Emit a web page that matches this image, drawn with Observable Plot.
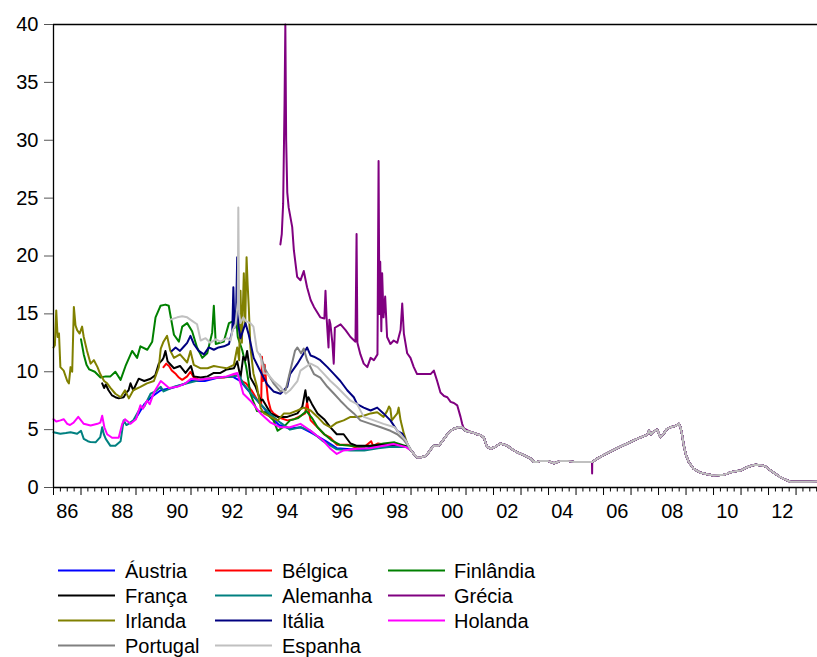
<!DOCTYPE html>
<html>
<head>
<meta charset="utf-8">
<script src="https://cdn.jsdelivr.net/npm/d3@7"></script>
<script src="https://cdn.jsdelivr.net/npm/@observablehq/plot@0.6"></script>
<style>
  html, body { margin: 0; padding: 0; background: #fff; }
  #chart { width: 817px; }
  svg { display: block; }
</style>
</head>
<body>
<div id="chart"></div>
<script>
// Short-term interbank rates (% p.a.), euro-area countries, [decimal year, rate]
const austria = [[1989.0,6.0],[1989.3,7.2],[1989.6,7.9],[1989.9,8.4],[1990.3,8.6],[1990.7,8.9],[1991.0,9.2],[1991.5,9.2],[1992.0,9.5],[1992.5,9.6],[1992.8,9.2],[1993.0,8.6],[1993.3,7.8],[1993.6,7.0],[1993.9,6.1],[1994.2,5.4],[1994.6,5.1],[1995.0,5.2],[1995.4,4.7],[1995.9,4.0],[1996.3,3.4],[1996.8,3.3],[1997.3,3.3],[1997.8,3.6],[1998.3,3.6],[1998.9,3.5]];

const belgium = [[1990.0,10.4],[1990.1,10.7],[1990.2,10.5],[1990.3,10.1],[1990.45,9.8],[1990.56,9.5],[1990.68,9.3],[1990.86,9.6],[1990.98,10.0],[1991.1,9.5],[1991.3,9.3],[1991.6,9.4],[1991.9,9.5],[1992.2,9.5],[1992.5,9.6],[1992.7,9.7],[1992.85,9.2],[1993.0,9.0],[1993.2,8.4],[1993.4,7.6],[1993.55,7.1],[1993.58,11.3],[1993.62,9.2],[1993.68,10.6],[1993.74,9.0],[1993.8,7.6],[1993.9,6.7],[1994.0,6.4],[1994.25,6.0],[1994.5,5.8],[1994.75,5.9],[1995.0,6.2],[1995.15,6.4],[1995.22,7.4],[1995.27,6.7],[1995.35,5.8],[1995.6,5.2],[1995.84,4.6],[1996.07,4.3],[1996.3,3.7],[1996.7,3.7],[1997.04,3.4],[1997.3,3.5],[1997.55,4.0],[1997.62,3.6],[1997.8,3.8],[1998.1,3.7],[1998.4,3.8],[1998.65,3.5],[1998.9,3.5]];

const finland = [[1987.0,12.8],[1987.1,11.5],[1987.2,10.6],[1987.3,10.2],[1987.5,10.0],[1987.71,9.5],[1987.9,9.6],[1988.07,9.6],[1988.25,10.0],[1988.44,9.3],[1988.62,10.5],[1988.86,11.8],[1989.04,11.2],[1989.16,12.2],[1989.41,11.9],[1989.59,12.6],[1989.71,14.7],[1989.89,15.7],[1990.07,15.8],[1990.19,15.7],[1990.25,14.9],[1990.38,13.2],[1990.56,12.6],[1990.68,13.9],[1990.86,14.2],[1991.04,13.5],[1991.22,12.1],[1991.41,11.2],[1991.59,11.6],[1991.77,13.4],[1991.83,15.7],[1991.9,12.4],[1992.19,12.6],[1992.38,14.2],[1992.56,14.4],[1992.62,15.2],[1992.7,13.0],[1992.87,11.8],[1993.0,10.5],[1993.16,8.1],[1993.4,6.6],[1993.7,6.5],[1994.0,5.8],[1994.15,4.9],[1994.4,5.3],[1994.6,5.8],[1994.9,6.0],[1995.2,6.6],[1995.4,6.0],[1995.6,5.2],[1995.85,4.6],[1996.1,4.1],[1996.4,3.7],[1996.8,3.6],[1997.2,3.5],[1997.6,3.6],[1998.0,3.8],[1998.4,3.9],[1998.8,3.6]];

const france = [[1987.77,9.0],[1987.84,8.6],[1987.9,8.9],[1988.0,8.4],[1988.13,7.95],[1988.25,7.8],[1988.37,7.7],[1988.55,7.8],[1988.65,8.2],[1988.73,8.4],[1988.8,9.0],[1988.9,8.4],[1989.1,9.4],[1989.3,9.2],[1989.53,9.4],[1989.7,9.7],[1989.83,10.7],[1989.95,11.0],[1990.0,11.2],[1990.07,11.8],[1990.15,10.9],[1990.38,10.3],[1990.6,10.5],[1990.8,9.9],[1991.0,10.5],[1991.1,9.6],[1991.35,9.5],[1991.6,9.6],[1991.83,9.9],[1992.07,9.9],[1992.3,10.2],[1992.56,10.3],[1992.68,10.9],[1992.74,10.2],[1992.8,9.5],[1992.9,11.3],[1992.98,11.0],[1993.04,11.8],[1993.1,10.8],[1993.16,9.5],[1993.35,8.7],[1993.53,7.5],[1993.6,7.6],[1993.75,7.0],[1993.9,6.4],[1994.15,6.1],[1994.5,6.1],[1994.87,6.4],[1995.05,7.0],[1995.16,8.4],[1995.22,7.4],[1995.27,7.8],[1995.4,7.2],[1995.6,6.4],[1995.84,5.9],[1996.07,5.2],[1996.3,4.6],[1996.55,4.6],[1996.8,3.8],[1997.04,3.6],[1997.5,3.6],[1998.0,3.7],[1998.5,3.7],[1998.9,3.5]];

const germany = [[1986.0,4.78],[1986.25,4.64],[1986.45,4.7],[1986.62,4.78],[1986.86,4.64],[1987.0,4.9],[1987.1,4.2],[1987.25,4.0],[1987.35,3.92],[1987.53,3.9],[1987.7,4.35],[1987.77,5.2],[1987.83,4.6],[1987.9,4.2],[1988.07,3.6],[1988.25,3.6],[1988.44,4.0],[1988.55,5.8],[1988.65,5.4],[1988.73,5.5],[1988.9,5.8],[1989.16,6.9],[1989.3,7.0],[1989.53,8.1],[1989.7,8.3],[1989.9,8.7],[1990.0,8.3],[1990.38,8.7],[1990.86,9.0],[1991.35,9.3],[1991.95,9.5],[1992.56,9.6],[1992.74,9.7],[1992.92,8.9],[1993.16,8.2],[1993.53,7.2],[1993.9,6.3],[1994.25,5.6],[1994.6,5.0],[1994.98,5.2],[1995.35,4.9],[1995.8,4.0],[1996.3,3.3],[1996.8,3.2],[1997.3,3.2],[1997.8,3.4],[1998.2,3.5],[1998.9,3.5]];

const greece = [[1994.25,21.0],[1994.3,21.9],[1994.35,24.5],[1994.4,33.0],[1994.43,40.0],[1994.46,30.0],[1994.5,25.5],[1994.55,24.2],[1994.68,22.5],[1994.74,20.5],[1994.86,18.2],[1994.98,17.9],[1995.1,18.7],[1995.22,17.3],[1995.35,16.2],[1995.47,15.6],[1995.7,14.7],[1995.85,14.6],[1995.89,17.0],[1995.93,14.7],[1996.0,12.1],[1996.03,14.5],[1996.07,14.1],[1996.14,12.5],[1996.19,10.7],[1996.23,13.8],[1996.44,14.1],[1996.62,13.6],[1996.8,13.0],[1996.98,12.6],[1997.02,21.9],[1997.05,12.5],[1997.16,11.5],[1997.28,10.7],[1997.41,10.4],[1997.53,11.2],[1997.65,11.0],[1997.78,11.5],[1997.82,28.2],[1997.85,15.0],[1997.88,19.5],[1997.92,13.5],[1997.95,18.5],[1998.0,14.7],[1998.06,16.5],[1998.13,13.0],[1998.25,12.4],[1998.37,12.7],[1998.5,12.5],[1998.62,13.6],[1998.68,15.9],[1998.74,13.3],[1998.86,11.6],[1998.98,11.2],[1999.1,10.4],[1999.22,9.8],[1999.47,9.8],[1999.71,9.8],[1999.83,10.1],[1999.95,9.2],[2000.07,8.2],[2000.2,7.9],[2000.32,7.8],[2000.44,7.4],[2000.56,7.3],[2000.68,7.1],[2000.8,6.1],[2000.86,5.5],[2000.92,5.1]];
// one-day drop in the Greek fixing
const greeceDip = [[2005.585,1.2]];

const ireland = [[1986.0,12.1],[1986.05,12.3],[1986.1,15.3],[1986.15,13.0],[1986.2,13.3],[1986.25,10.4],[1986.37,10.1],[1986.5,9.2],[1986.56,9.0],[1986.62,10.4],[1986.68,10.0],[1986.74,15.6],[1986.8,14.0],[1986.86,13.6],[1986.95,13.3],[1987.04,13.9],[1987.1,13.0],[1987.22,11.8],[1987.35,10.7],[1987.47,11.0],[1987.6,10.4],[1987.7,9.8],[1987.84,9.2],[1987.95,9.0],[1988.07,8.6],[1988.25,8.1],[1988.44,7.8],[1988.6,8.4],[1988.74,7.7],[1988.9,8.4],[1989.16,8.7],[1989.4,9.0],[1989.65,9.2],[1989.83,10.4],[1989.9,12.0],[1990.0,12.6],[1990.13,13.1],[1990.25,11.8],[1990.38,11.2],[1990.6,11.5],[1990.86,10.8],[1990.98,11.8],[1991.1,10.6],[1991.35,10.3],[1991.6,10.3],[1991.83,10.5],[1992.05,10.4],[1992.3,10.3],[1992.56,10.6],[1992.68,12.1],[1992.75,11.0],[1992.8,17.0],[1992.85,12.5],[1992.92,18.5],[1992.97,14.0],[1993.02,19.9],[1993.06,17.5],[1993.1,15.6],[1993.16,12.1],[1993.27,9.85],[1993.4,8.7],[1993.53,6.9],[1993.65,6.4],[1993.9,6.1],[1994.15,5.8],[1994.38,6.4],[1994.6,6.4],[1994.87,6.65],[1995.1,6.9],[1995.35,6.65],[1995.6,6.1],[1995.84,5.5],[1996.07,5.2],[1996.3,5.6],[1996.55,5.8],[1996.8,6.1],[1997.04,6.1],[1997.28,6.2],[1997.53,6.4],[1997.77,6.5],[1998.0,6.1],[1998.13,6.6],[1998.2,7.0],[1998.25,6.8],[1998.3,5.8],[1998.5,6.4],[1998.55,6.9],[1998.62,5.8],[1998.74,4.65],[1998.86,3.8]];

const italy = [[1990.3,11.8],[1990.44,12.1],[1990.6,11.8],[1990.75,12.2],[1990.86,12.5],[1990.98,13.1],[1991.1,12.4],[1991.28,11.8],[1991.47,11.5],[1991.65,12.1],[1991.83,11.9],[1992.0,12.1],[1992.2,12.2],[1992.38,12.4],[1992.5,13.5],[1992.54,17.3],[1992.58,13.8],[1992.64,15.0],[1992.68,19.9],[1992.72,14.0],[1992.8,12.9],[1992.98,14.2],[1993.1,13.2],[1993.28,11.2],[1993.53,10.0],[1993.77,8.9],[1994.0,8.3],[1994.25,8.1],[1994.5,8.7],[1994.6,9.8],[1994.87,10.7],[1995.1,11.6],[1995.22,12.1],[1995.35,11.4],[1995.47,11.3],[1995.7,11.0],[1995.96,10.4],[1996.2,9.8],[1996.43,9.2],[1996.68,8.4],[1996.92,7.8],[1997.04,7.2],[1997.28,6.9],[1997.53,6.65],[1997.77,6.9],[1998.0,6.4],[1998.25,5.8],[1998.5,4.9],[1998.68,4.65],[1998.86,3.8]];

const netherlands = [[1986.0,5.9],[1986.1,5.7],[1986.25,5.8],[1986.37,5.9],[1986.5,5.5],[1986.6,5.4],[1986.73,5.6],[1986.9,6.1],[1987.0,5.8],[1987.1,5.5],[1987.35,5.35],[1987.6,5.5],[1987.7,5.6],[1987.77,6.2],[1987.85,5.2],[1987.95,4.6],[1988.13,4.3],[1988.37,4.3],[1988.5,5.5],[1988.6,5.9],[1988.8,5.5],[1989.0,5.9],[1989.16,7.1],[1989.25,6.8],[1989.4,7.5],[1989.5,7.2],[1989.65,8.2],[1989.9,9.2],[1990.0,9.0],[1990.2,8.6],[1990.5,8.7],[1990.8,9.0],[1991.0,9.4],[1991.3,9.3],[1991.6,9.4],[1992.0,9.5],[1992.3,9.6],[1992.55,9.8],[1992.68,9.9],[1992.8,9.0],[1992.9,8.1],[1993.16,7.5],[1993.53,6.4],[1993.9,5.6],[1994.25,5.2],[1994.6,5.2],[1994.98,5.5],[1995.35,4.9],[1995.8,4.06],[1996.05,3.4],[1996.3,2.9],[1996.55,3.2],[1997.04,3.35],[1997.5,3.4],[1998.0,3.6],[1998.36,3.75],[1998.8,3.5]];

const portugal = [[1993.5,11.5],[1993.7,10.2],[1994.0,9.0],[1994.25,8.3],[1994.44,8.4],[1994.6,10.0],[1994.7,11.0],[1994.78,11.8],[1994.87,12.1],[1995.0,11.6],[1995.1,12.0],[1995.22,11.0],[1995.47,9.8],[1995.7,9.5],[1995.96,8.7],[1996.2,8.1],[1996.43,7.5],[1996.68,6.9],[1996.92,6.4],[1997.16,5.8],[1997.53,5.5],[1997.9,5.2],[1998.25,4.9],[1998.5,4.6],[1998.74,4.1],[1998.9,3.6]];

const spain = [[1990.25,14.5],[1990.5,14.7],[1990.68,14.8],[1990.86,14.7],[1991.04,14.4],[1991.22,14.1],[1991.35,12.7],[1991.53,12.9],[1991.7,12.5],[1991.9,12.8],[1992.07,12.6],[1992.3,12.9],[1992.44,12.7],[1992.5,13.5],[1992.62,14.1],[1992.7,16.0],[1992.72,24.2],[1992.75,15.0],[1992.8,14.2],[1992.9,14.7],[1992.98,14.4],[1993.16,14.2],[1993.27,13.9],[1993.4,11.8],[1993.53,11.3],[1993.65,9.85],[1993.77,9.85],[1994.0,9.2],[1994.25,8.7],[1994.44,8.1],[1994.6,8.4],[1994.87,9.2],[1994.98,10.1],[1995.16,10.4],[1995.35,10.7],[1995.6,10.4],[1995.84,9.8],[1996.07,9.2],[1996.3,8.7],[1996.55,8.1],[1996.8,7.5],[1997.04,7.2],[1997.28,6.1],[1997.65,5.8],[1998.0,5.5],[1998.4,5.2],[1998.62,4.6],[1998.8,4.1]];

// Common euro rate once a country has joined
const euro = [[1999.0,3.2],[1999.1,2.9],[1999.22,2.6],[1999.35,2.6],[1999.5,2.7],[1999.6,2.9],[1999.75,3.4],[1999.83,3.6],[2000.0,3.6],[2000.07,3.8],[2000.2,4.2],[2000.32,4.6],[2000.45,4.9],[2000.56,5.07],[2000.74,5.2],[2000.86,5.2],[2000.98,4.9],[2001.16,4.8],[2001.3,4.7],[2001.4,4.6],[2001.55,4.5],[2001.65,4.3],[2001.72,3.8],[2001.77,3.5],[2001.9,3.35],[2002.05,3.5],[2002.25,3.8],[2002.4,3.7],[2002.5,3.6],[2002.62,3.4],[2002.74,3.2],[2002.9,3.0],[2003.1,2.8],[2003.35,2.5],[2003.47,2.2],[2003.6,2.2],[2003.7,2.3],[2003.96,2.3],[2004.2,2.1],[2004.44,2.3],[2004.68,2.3],[2004.93,2.2],[2005.3,2.2],[2005.58,2.2],[2005.59,2.2],[2005.77,2.5],[2006.0,2.8],[2006.25,3.1],[2006.5,3.4],[2006.86,3.8],[2007.22,4.2],[2007.53,4.5],[2007.6,4.6],[2007.65,4.9],[2007.72,4.6],[2007.77,4.75],[2007.95,5.0],[2008.02,4.6],[2008.07,4.35],[2008.2,4.7],[2008.31,5.07],[2008.43,5.2],[2008.6,5.3],[2008.74,5.5],[2008.8,5.2],[2008.86,4.5],[2008.92,3.6],[2009.0,2.8],[2009.1,2.2],[2009.28,1.6],[2009.5,1.3],[2009.77,1.15],[2010.0,1.04],[2010.38,1.1],[2010.5,1.2],[2010.62,1.32],[2010.8,1.4],[2011.0,1.47],[2011.22,1.75],[2011.4,1.9],[2011.53,1.96],[2011.77,1.9],[2011.9,1.8],[2012.0,1.6],[2012.25,1.18],[2012.4,0.95],[2012.55,0.75],[2012.8,0.5],[2013.16,0.5],[2013.5,0.5],[2013.78,0.52]];

const names = ["Áustria","Bélgica","Finlândia","França","Alemanha","Grécia","Irlanda","Itália","Holanda","Portugal","Espanha"];
const colors = ["#0000ff","#ff0000","#008000","#000000","#008080","#800080","#808000","#000080","#ff00ff","#808080","#c0c0c0"];
const national = [austria, belgium, finland, france, germany, greece, ireland, italy, netherlands, portugal, spain];
const euroEntry = [1999,1999,1999,1999,1999,2001,1999,1999,1999,1999,1999];

const yTicks = [0,5,10,15,20,25,30,35,40];
const yearTicks = d3.range(1986, 2014);
const quarterTicks = d3.range(1986, 2014).flatMap(y => [y + 0.25, y + 0.5, y + 0.75]);
const yearLabels = d3.range(1986, 2013, 2).map(y => y + 0.5);

// Long table: one row per country and date
const rows = [];
names.forEach((name, i) => {
  let pts = national[i].concat(euro.filter(d => d[0] >= euroEntry[i]));
  if (name === "Grécia") pts = pts.concat(greeceDip).sort((a, b) => a[0] - b[0]);
  pts.forEach(([year, rate]) => rows.push({country: name, year, rate}));
});

const axisColor = "#000";
const chart = Plot.plot({
  width: 817,
  height: 530,
  marginLeft: 53,
  marginRight: 0,
  marginTop: 24,
  marginBottom: 43,
  style: {fontFamily: "Arial, 'Liberation Sans', sans-serif", fontSize: "20px", color: "#000", background: "#fff"},
  x: {domain: [1986, 2013.78]},
  y: {domain: [0, 40]},
  color: {domain: names, range: colors},
  marks: [
    Plot.lineY(rows, {x: "year", y: "rate", z: "country", stroke: "country", strokeWidth: 2}),
    Plot.ruleY([40], {stroke: axisColor, strokeWidth: 1.3}),
    Plot.ruleY([0], {stroke: axisColor, strokeWidth: 1.3}),
    Plot.ruleX([1986], {stroke: axisColor, strokeWidth: 1.3}),
    Plot.axisY({ticks: yTicks, tickSize: 9, tickPadding: 6, label: null, stroke: "#555"}),
    Plot.axisX({ticks: yearTicks, tickSize: 8, tickFormat: () => "", label: null}),
    Plot.axisX({ticks: quarterTicks, tickSize: 4.5, tickFormat: () => "", label: null}),
    Plot.axisX({ticks: yearLabels, tickSize: 0, tickPadding: 16, label: null,
      tickFormat: d => String(Math.floor(d) % 100).padStart(2, "0")})
  ]
});
document.getElementById("chart").appendChild(chart);

// Legend: three columns, filled row by row
const legend = d3.select("#chart").append("svg")
  .attr("width", 817).attr("height", 127)
  .style("font-family", "Arial, 'Liberation Sans', sans-serif")
  .style("font-size", "20px");
const colLine = [58, 215, 388];
const colText = [125, 282, 454];
names.forEach((name, i) => {
  const r = Math.floor(i / 3), c = i % 3;
  const y = 40.5 + r * 25;
  legend.append("line")
    .attr("x1", colLine[c]).attr("x2", colLine[c] + 57)
    .attr("y1", y).attr("y2", y)
    .attr("stroke", colors[i]).attr("stroke-width", 2);
  legend.append("text")
    .attr("x", colText[c]).attr("y", y).attr("dy", "0.36em")
    .attr("fill", "#000").text(name);
});
</script>
</body>
</html>
